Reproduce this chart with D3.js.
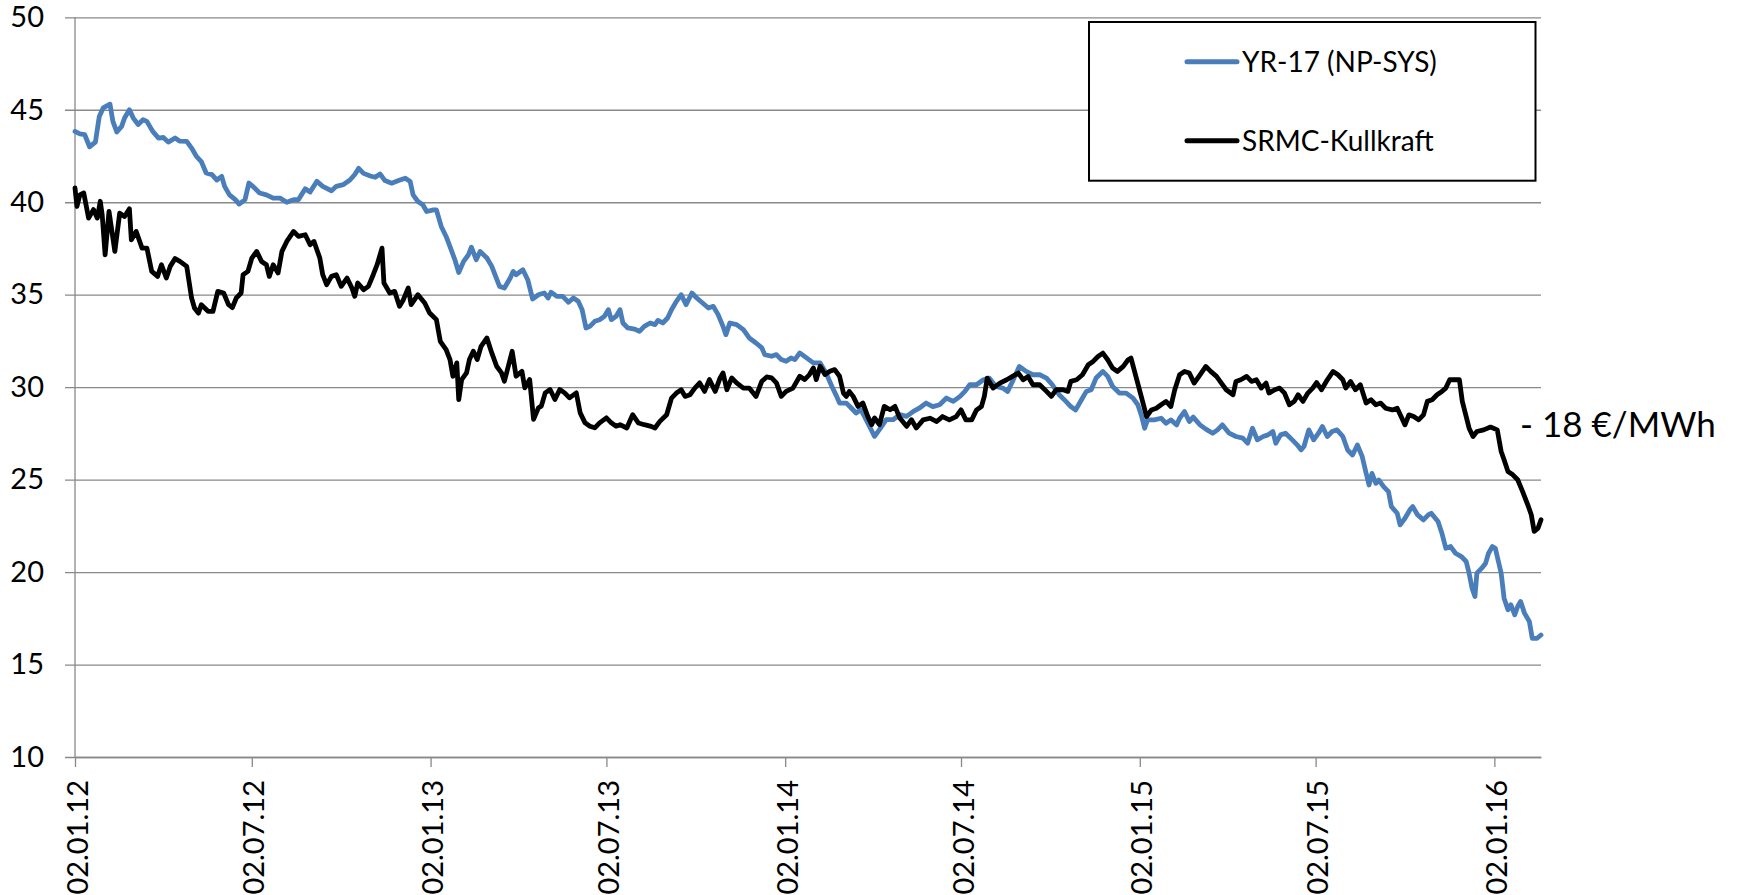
<!DOCTYPE html>
<html><head><meta charset="utf-8">
<script src="https://cdn.jsdelivr.net/npm/d3@7"></script>
<style>
body{margin:0;background:#fff}
svg{display:block}
text{font-family:Lato,"Open Sans",sans-serif;fill:#000}
</style>
</head><body>
<svg id="c" width="1738" height="895"></svg>
<script>
// ---- data ----
const startDate = "2012-01-02";          // day 0 of the series below
const endDate = "2016-02-19";
const seriesNames = ["YR-17 (NP-SYS)", "SRMC-Kullkraft"];
const seriesColors = ["#4a7ebb", "#000000"];
const yTicks = [10, 15, 20, 25, 30, 35, 40, 45, 50];
const xTickLabels = ["02.01.12","02.07.12","02.01.13","02.07.13","02.01.14","02.07.14","02.01.15","02.07.15","02.01.16"];
const annotationText = "- 18 €/MWh";

// [calendar days since 02.01.2012, €/MWh]
const yr17 = [[0,43.83],[5,43.7],[10,43.65],[15,43.0],[21,43.25],[25,44.64],[29,45.1],[36,45.3],[39,44.37],[43,43.8],[48,44.1],[51,44.55],[56,45.0],[60,44.55],[65,44.2],[70,44.46],[74,44.37],[80,43.83],[86,43.47],[91,43.5],[96,43.25],[103,43.47],[108,43.3],[115,43.29],[120,42.93],[125,42.48],[130,42.2],[135,41.58],[141,41.49],[146,41.2],[151,41.4],[154,40.86],[159,40.4],[165,40.14],[169,39.9],[175,40.14],[179,41.04],[183,40.86],[190,40.5],[197,40.4],[204,40.22],[211,40.22],[218,40.0],[225,40.14],[230,40.14],[237,40.73],[242,40.55],[249,41.13],[255,40.86],[264,40.62],[269,40.86],[276,40.95],[283,41.2],[288,41.5],[292,41.83],[297,41.56],[304,41.42],[309,41.35],[314,41.53],[319,41.17],[326,41.03],[333,41.17],[340,41.3],[345,41.12],[348,40.4],[353,40.04],[358,39.86],[362,39.5],[369,39.59],[372,39.59],[377,38.69],[382,38.15],[386,37.6],[391,36.89],[395,36.2],[400,36.8],[405,37.16],[408,37.57],[413,36.89],[417,37.34],[424,36.98],[429,36.53],[433,35.99],[437,35.45],[442,35.36],[448,35.9],[451,36.26],[454,36.08],[461,36.35],[466,35.81],[471,34.77],[477,35.0],[483,35.09],[487,34.82],[490,35.13],[496,34.91],[502,34.91],[508,34.59],[513,34.82],[518,34.64],[522,34.19],[526,33.2],[530,33.29],[535,33.56],[540,33.65],[545,33.83],[549,34.19],[552,33.65],[557,33.83],[561,34.19],[564,33.47],[569,33.2],[576,33.14],[581,33.02],[586,33.29],[592,33.47],[597,33.38],[600,33.61],[605,33.47],[610,33.74],[614,34.19],[619,34.64],[624,35.0],[629,34.46],[635,35.09],[640,34.82],[646,34.55],[652,34.28],[657,34.37],[662,33.92],[667,33.29],[670,32.84],[674,33.47],[681,33.38],[688,33.11],[694,32.66],[701,32.39],[707,32.12],[710,31.76],[717,31.67],[722,31.76],[727,31.49],[732,31.4],[737,31.58],[741,31.49],[746,31.85],[753,31.58],[760,31.31],[767,31.31],[773,30.77],[779,30.05],[784,29.5],[787,29.14],[794,29.14],[799,28.87],[804,28.6],[809,28.78],[816,28.06],[823,27.34],[828,27.7],[835,28.24],[842,28.24],[849,28.51],[856,28.42],[863,28.69],[869,28.86],[876,29.14],[883,28.95],[890,29.05],[897,29.41],[904,29.23],[911,29.5],[916,29.77],[921,30.13],[928,30.13],[935,30.4],[941,30.49],[948,30.04],[955,29.95],[960,29.77],[965,30.31],[972,31.12],[979,30.85],[986,30.67],[993,30.67],[1000,30.49],[1006,30.13],[1013,29.59],[1020,29.23],[1025,28.95],[1030,28.77],[1036,29.32],[1041,29.77],[1046,29.86],[1051,30.49],[1058,30.85],[1063,30.58],[1068,30.04],[1075,29.68],[1082,29.68],[1089,29.41],[1094,29.05],[1098,28.41],[1101,27.78],[1104,28.23],[1111,28.23],[1118,28.32],[1123,28.05],[1128,28.23],[1134,27.96],[1137,28.32],[1142,28.68],[1147,28.14],[1151,28.38],[1158,27.96],[1164,27.73],[1171,27.51],[1176,27.69],[1181,27.96],[1188,27.51],[1195,27.33],[1202,27.24],[1207,26.97],[1212,27.78],[1217,27.15],[1223,27.33],[1228,27.42],[1233,27.6],[1236,26.97],[1241,27.42],[1246,27.51],[1253,27.15],[1258,26.88],[1262,26.61],[1265,26.79],[1270,27.69],[1275,27.15],[1280,27.51],[1284,27.87],[1289,27.33],[1294,27.6],[1299,27.69],[1305,27.33],[1310,26.6],[1315,26.33],[1320,26.87],[1325,26.24],[1329,25.34],[1332,24.71],[1335,25.34],[1339,24.8],[1342,24.98],[1347,24.62],[1352,24.35],[1355,23.54],[1361,23.18],[1364,22.55],[1369,22.91],[1374,23.36],[1377,23.54],[1382,23.09],[1388,22.82],[1393,23.09],[1396,23.18],[1403,22.73],[1407,22.1],[1411,21.29],[1416,21.38],[1421,21.02],[1427,20.84],[1432,20.57],[1435,19.94],[1438,19.13],[1441,18.68],[1443,19.94],[1448,20.21],[1452,20.48],[1455,21.02],[1459,21.38],[1462,21.29],[1468,19.94],[1471,18.59],[1475,17.96],[1478,18.23],[1482,17.69],[1485,18.14],[1488,18.41],[1492,17.78],[1497,17.33],[1500,16.42],[1505,16.42],[1509,16.6]];

const srmc = [[0,40.77],[2,39.77],[5,40.4],[9,40.5],[14,39.14],[19,39.6],[23,39.14],[26,40.05],[28,39.32],[31,37.16],[35,39.5],[41,37.34],[46,39.41],[51,39.23],[56,39.64],[58,37.97],[63,38.42],[69,37.52],[74,37.52],[79,36.26],[85,35.99],[89,36.62],[94,35.9],[98,36.53],[103,36.95],[108,36.8],[115,36.53],[120,34.82],[123,34.28],[127,34.0],[130,34.46],[137,34.1],[142,34.1],[147,35.18],[153,35.09],[158,34.46],[162,34.3],[166,34.82],[171,35.09],[173,36.08],[178,36.26],[182,36.98],[187,37.34],[192,36.8],[197,36.62],[200,35.99],[204,36.62],[209,36.17],[213,37.34],[218,37.88],[225,38.42],[230,38.15],[237,38.24],[242,37.7],[246,37.88],[252,36.98],[255,36.08],[259,35.54],[264,35.99],[269,36.08],[274,35.45],[280,35.9],[285,35.36],[288,34.91],[291,35.63],[297,35.27],[302,35.45],[307,36.08],[311,36.62],[316,37.52],[318,35.63],[324,35.09],[329,35.18],[334,34.37],[338,34.73],[343,35.36],[346,34.46],[353,35.0],[360,34.55],[365,34.01],[372,33.65],[376,32.48],[382,32.03],[386,31.49],[389,30.59],[393,31.31],[395,29.33],[398,30.41],[403,30.77],[406,31.49],[410,31.94],[414,31.49],[418,32.21],[424,32.66],[429,31.85],[434,31.13],[439,30.77],[442,30.32],[446,31.13],[450,31.94],[454,30.59],[460,30.86],[463,29.96],[468,30.41],[472,28.26],[477,28.88],[480,28.97],[484,29.69],[489,29.87],[494,29.33],[499,29.87],[504,29.69],[509,29.42],[516,29.69],[520,28.61],[525,28.07],[530,27.89],[535,27.8],[540,28.07],[547,28.34],[552,28.07],[557,27.89],[561,27.97],[568,27.79],[574,28.51],[580,28.06],[586,27.97],[593,27.88],[597,27.79],[602,28.15],[609,28.51],[614,29.41],[619,29.68],[624,29.86],[628,29.5],[633,29.59],[638,29.95],[643,30.23],[648,29.77],[653,30.41],[659,29.77],[664,30.5],[667,30.77],[671,29.86],[676,30.5],[681,30.23],[688,29.95],[694,29.95],[701,29.5],[707,30.32],[712,30.55],[717,30.5],[722,30.23],[727,29.5],[732,29.77],[739,29.95],[746,30.59],[751,30.41],[756,30.68],[760,31.04],[763,30.41],[767,31.13],[772,30.68],[777,30.86],[782,30.95],[787,30.59],[791,29.68],[794,29.5],[797,29.77],[801,29.5],[806,28.96],[811,29.14],[816,28.42],[820,27.97],[823,28.33],[828,27.97],[833,28.96],[839,28.78],[844,28.96],[849,28.33],[856,27.88],[861,28.24],[866,27.79],[873,28.23],[880,28.32],[887,28.14],[893,28.41],[900,28.23],[907,28.41],[912,28.77],[917,28.23],[923,28.23],[928,28.77],[933,28.95],[936,29.5],[939,30.49],[945,29.95],[952,30.22],[959,30.4],[965,30.58],[971,30.76],[976,30.4],[981,30.58],[986,30.13],[993,30.13],[1000,29.77],[1005,29.5],[1010,29.86],[1017,29.86],[1022,29.77],[1025,30.31],[1031,30.4],[1037,30.67],[1043,31.21],[1048,31.39],[1053,31.66],[1058,31.84],[1063,31.48],[1068,31.03],[1073,30.85],[1079,31.12],[1084,31.48],[1087,31.57],[1092,30.58],[1098,29.41],[1103,28.41],[1108,28.77],[1113,28.86],[1118,29.05],[1123,29.23],[1128,28.95],[1132,29.86],[1137,30.67],[1142,30.85],[1147,30.76],[1152,30.22],[1158,30.67],[1164,31.12],[1169,30.85],[1175,30.58],[1180,30.22],[1185,29.86],[1192,29.59],[1195,30.31],[1200,30.4],[1206,30.58],[1211,30.31],[1216,30.4],[1221,29.95],[1226,30.22],[1229,29.68],[1235,29.86],[1240,29.95],[1245,29.68],[1250,29.05],[1255,29.23],[1259,29.59],[1264,29.23],[1269,29.68],[1274,29.95],[1278,30.25],[1283,29.86],[1288,30.31],[1295,30.85],[1300,30.67],[1305,30.4],[1308,29.95],[1313,30.31],[1318,29.86],[1323,30.13],[1329,29.14],[1334,29.32],[1339,29.05],[1344,29.14],[1349,28.86],[1356,28.77],[1361,28.86],[1365,28.41],[1369,27.96],[1373,28.5],[1378,28.41],[1383,28.23],[1388,28.5],[1392,29.23],[1397,29.32],[1402,29.59],[1407,29.77],[1411,29.95],[1415,30.4],[1420,30.4],[1425,30.4],[1428,29.23],[1432,28.41],[1435,27.78],[1439,27.33],[1443,27.6],[1450,27.69],[1457,27.84],[1464,27.69],[1468,26.52],[1471,26.07],[1475,25.44],[1480,25.26],[1485,24.99],[1490,24.36],[1496,23.55],[1499,23.1],[1502,22.2],[1506,22.38],[1509,22.83]];

// ---- chart ----
const svg = d3.select("#c");
const parseISO = d3.timeParse("%Y-%m-%d");
const parseTick = d3.timeParse("%d.%m.%y");
const fmtTick = d3.timeFormat("%d.%m.%y");
const t0 = parseISO(startDate);
const toDate = d => d3.timeDay.offset(t0, d);

const mLeft = 75, mRight = 1541, mTop = 17.3, mBottom = 757;
const x = d3.scaleTime().domain([t0, parseISO(endDate)]).range([mLeft, mRight]);
const y = d3.scaleLinear().domain([10, 50]).range([mBottom, mTop]);
const gridColor = "#898989";

// y axis with gridlines
const gy = svg.append("g").attr("transform", `translate(${mLeft - 10},0)`)
  .call(d3.axisLeft(y).tickValues(yTicks).tickSize(-(mRight - mLeft + 10)).tickPadding(21).tickFormat(d3.format("d")));
gy.select(".domain").remove();
gy.selectAll(".tick line").attr("stroke", gridColor).attr("stroke-width", 1.3);
gy.selectAll(".tick text").attr("font-size", 29).attr("font-family", "Lato");

// vertical axis line
svg.append("line").attr("x1", mLeft).attr("x2", mLeft).attr("y1", y(50)).attr("y2", y(10))
  .attr("stroke", gridColor).attr("stroke-width", 1.3);

// x axis
const gx = svg.append("g").attr("transform", `translate(0,${mBottom})`)
  .call(d3.axisBottom(x).tickValues(xTickLabels.map(parseTick)).tickSize(10).tickSizeOuter(0).tickFormat(fmtTick));
gx.select(".domain").attr("stroke", gridColor).attr("stroke-width", 1.3);
gx.selectAll(".tick line").attr("stroke", gridColor).attr("stroke-width", 1.3);
gx.selectAll(".tick text")
  .attr("font-size", 29).attr("font-family", "Lato")
  .attr("transform", "rotate(-90)")
  .attr("text-anchor", "end")
  .attr("x", -23).attr("y", 2).attr("dy", "0.35em");

// lines
const line = d3.line().x(d => x(toDate(d[0]))).y(d => y(d[1]));
[yr17, srmc].forEach((s, i) => {
  svg.append("path").datum(s).attr("d", line)
    .attr("fill", "none").attr("stroke", seriesColors[i])
    .attr("stroke-width", 4.8).attr("stroke-linejoin", "round").attr("stroke-linecap", "round");
});

// legend
const lg = svg.append("g");
lg.append("rect").attr("x", 1089).attr("y", 22).attr("width", 446.5).attr("height", 158.7)
  .attr("fill", "#fff").attr("stroke", "#000").attr("stroke-width", 2);
const legendY = [61.7, 140.7];
seriesNames.forEach((n, i) => {
  lg.append("line").attr("x1", 1187).attr("x2", 1237).attr("y1", legendY[i]).attr("y2", legendY[i])
    .attr("stroke", seriesColors[i]).attr("stroke-width", 5).attr("stroke-linecap", "round");
  lg.append("text").attr("x", 1242).attr("y", legendY[i]).attr("dy", "0.35em")
    .attr("font-size", 28).text(n);
});

// annotation
svg.append("text").attr("x", 1520).attr("y", 437).attr("font-size", 35).text(annotationText);
</script>
</body></html>
